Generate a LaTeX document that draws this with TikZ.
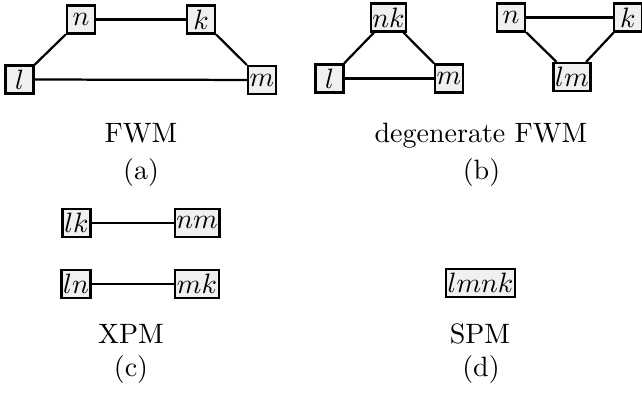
\documentclass[tikz,border=0pt]{standalone}
\usepackage{tikz}

\begin{document}
\begin{tikzpicture}[
mode/.style={draw,thick,fill=gray!12,inner sep=.6pt,minimum size=10pt},
caption/.style={anchor=base},
link/.style={thick}
]
\useasboundingbox (0,0) rectangle (8.059,-4.921);

% (a) FWM
\node (an) at (1.017,-0.245) [mode] {$n$};
\node (ak) at (2.523,-0.245) [mode] {$k$};
\node (al) at (0.245,-0.998) [mode] {$l$};
\node (am) at (3.289,-1.004) [mode] {$m$};
\draw[link] (an) -- (ak);
\draw[link] (an) -- (al);
\draw[link] (ak) -- (am);
\draw[link] (al) -- (am);
\node (atxt) at (1.770,-1.783) [caption] {FWM};
\node (alab) at (1.770,-2.250) [caption] {(a)};

% (b) degenerate FWM
\node (bnk) at (4.877,-0.220) [mode] {$nk$};
\node (bl) at (4.136,-0.985) [mode] {$l$};
\node (bm) at (5.636,-0.985) [mode] {$m$};
\draw[link] (bnk) -- (bl);
\draw[link] (bnk) -- (bm);
\draw[link] (bl) -- (bm);

\node (bn) at (6.415,-0.220) [mode] {$n$};
\node (bk) at (7.880,-0.220) [mode] {$k$};
\node (blm) at (7.180,-0.967) [mode] {$lm$};
\draw[link] (bn) -- (bk);
\draw[link] (bn) -- (blm);
\draw[link] (bk) -- (blm);
\node (btxt) at (6.038,-1.783) [caption] {degenerate FWM};
\node (blab) at (6.044,-2.250) [caption] {(b)};

% (c) XPM
\node (clk) at (0.960,-2.799) [mode] {$lk$};
\node (cnm) at (2.473,-2.799) [mode] {$nm$};
\node (cln) at (0.954,-3.565) [mode] {$ln$};
\node (cmk) at (2.473,-3.565) [mode] {$mk$};
\draw[link] (clk) -- (cnm);
\draw[link] (cln) -- (cmk);
\node (ctxt) at (1.644,-4.306) [caption] {XPM};
\node (clab) at (1.644,-4.720) [caption] {(c)};

% (d) SPM
\node (dlmnk) at (6.032,-3.552) [mode] {$lmnk$};
\node (dtxt) at (6.025,-4.306) [caption] {SPM};
\node (dlab) at (6.038,-4.720) [caption] {(d)};

\end{tikzpicture}
\end{document}
